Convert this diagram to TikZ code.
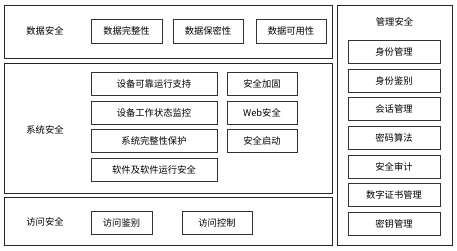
\documentclass[tikz,border=0pt]{standalone}
\usepackage{fontspec}
\setmainfont{Noto Sans CJK SC}
\begin{document}
\begin{tikzpicture}[x=1pt,y=-1pt,
  outerbox/.style={draw=black!85,line width=0.9pt,fill=none},
  inbox/.style={draw=black!80,line width=0.7pt,inner sep=0pt,minimum height=23pt,font=\fontsize{9.3}{11}\selectfont},
  lbl/.style={inner sep=0pt,font=\fontsize{9.3}{11}\selectfont},
  wA/.style={minimum width=71pt},
  wB/.style={minimum width=126pt},
  wC/.style={minimum width=70pt},
  wM/.style={minimum width=92pt},
  wV/.style={minimum width=61pt}]
\useasboundingbox (0,0) rectangle (457,250);
% outer groups
\node[outerbox,minimum width=328pt,minimum height=53pt,inner sep=0pt] (data) at (168,31.5) {};
\node[outerbox,minimum width=328pt,minimum height=130pt,inner sep=0pt] (sys) at (168,128) {};
\node[outerbox,minimum width=328pt,minimum height=48pt,inner sep=0pt] (acc) at (168,221) {};
\node[outerbox,minimum width=115pt,minimum height=240pt,inner sep=0pt] (mgmt) at (394.5,125) {};
% labels
\node[lbl] (ldata) at (45,31) {数据安全};
\node[lbl] (lsys) at (45,130) {系统安全};
\node[lbl] (lacc) at (45,222) {访问安全};
\node[lbl] (lmgmt) at (394.5,22) {管理安全};
% data security
\node[inbox,wA,minimum height=24pt] (d1) at (126.5,31) {数据完整性};
\node[inbox,wC,minimum height=24pt] (d2) at (208,31) {数据保密性};
\node[inbox,wC,minimum height=24pt] (d3) at (291,31) {数据可用性};
% system security
\node[inbox,wB] (s1) at (154,84) {设备可靠运行支持};
\node[inbox,wB] (s2) at (154,112.6) {设备工作状态监控};
\node[inbox,wB] (s3) at (154,141.3) {系统完整性保护};
\node[inbox,wB] (s4) at (154,169.8) {软件及软件运行安全};
\node[inbox,wC] (s5) at (262,84) {安全加固};
\node[inbox,wC] (s6) at (262,112.6) {Web安全};
\node[inbox,wC] (s7) at (262,141.3) {安全启动};
% access security
\node[inbox,wV] (a1) at (121.5,222.5) {访问鉴别};
\node[inbox,wC] (a2) at (217,222.5) {访问控制};
% management security
\node[inbox,wM] (m1) at (394,52) {身份管理};
\node[inbox,wM] (m2) at (394,80.5) {身份鉴别};
\node[inbox,wM] (m3) at (394,109) {会话管理};
\node[inbox,wM] (m4) at (394,137.5) {密码算法};
\node[inbox,wM] (m5) at (394,166.5) {安全审计};
\node[inbox,wM] (m6) at (394,195) {数字证书管理};
\node[inbox,wM] (m7) at (394,223.5) {密钥管理};
\end{tikzpicture}
\end{document}
